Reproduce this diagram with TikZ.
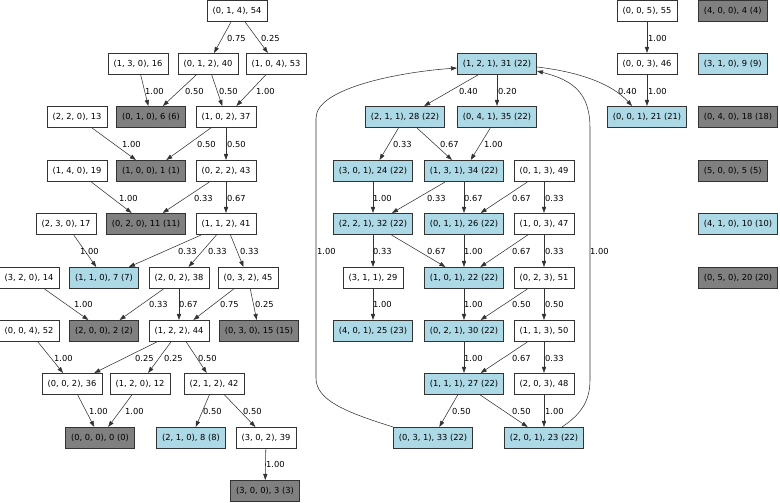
\documentclass[tikz,border=0pt]{standalone}
\usepackage{fontspec}
\setmainfont{DejaVu Sans}
\usetikzlibrary{arrows.meta,calc}
\definecolor{gvblue}{HTML}{ADD8E6}
\definecolor{gvgrey}{HTML}{808080}
\definecolor{gvline}{HTML}{333333}
\begin{document}
\begin{tikzpicture}[x=1pt,y=-1pt,
  font=\fontsize{8.3}{10}\selectfont,
  box/.style={draw=gvline,line width=0.6pt,rectangle,minimum height=21.5pt,inner xsep=5.5pt,inner ysep=0pt},
  wbox/.style={box,fill=white},
  bbox/.style={box,fill=gvblue},
  gbox/.style={box,fill=gvgrey},
  lab/.style={inner sep=0pt,anchor=west},
  edge/.style={draw=gvline,line width=0.55pt,-{Triangle[length=6pt,width=4.2pt]}}]
\useasboundingbox (0,0) rectangle (780,503);
% left cluster
\node[wbox] (n54) at (237,11) {(0, 1, 4), 54};
\node[wbox] (n16) at (138,64) {(1, 3, 0), 16};
\node[wbox] (n40) at (208,64) {(0, 1, 2), 40};
\node[wbox] (n53) at (276,64) {(1, 0, 4), 53};
\node[wbox] (n13) at (77,117) {(2, 2, 0), 13};
\node[gbox] (n6) at (151,117) {(0, 1, 0), 6 (6)};
\node[wbox] (n37) at (226,117) {(1, 0, 2), 37};
\node[wbox] (n19) at (77,171) {(1, 4, 0), 19};
\node[gbox] (n1) at (151,171) {(1, 0, 0), 1 (1)};
\node[wbox] (n43) at (226,171) {(0, 2, 2), 43};
\node[wbox] (n17) at (66,224) {(2, 3, 0), 17};
\node[gbox] (n11) at (146,224) {(0, 2, 0), 11 (11)};
\node[wbox] (n41) at (226,224) {(1, 1, 2), 41};
\node[wbox] (n14) at (29,278) {(3, 2, 0), 14};
\node[bbox] (n7) at (104,278) {(1, 1, 0), 7 (7)};
\node[wbox] (n38) at (179,278) {(2, 0, 2), 38};
\node[wbox] (n45) at (248,278) {(0, 3, 2), 45};
\node[wbox] (n52) at (29,331) {(0, 0, 4), 52};
\node[gbox] (n2) at (104,331) {(2, 0, 0), 2 (2)};
\node[wbox] (n44) at (179,331) {(1, 2, 2), 44};
\node[gbox] (n15) at (259,331) {(0, 3, 0), 15 (15)};
\node[wbox] (n36) at (72,384) {(0, 0, 2), 36};
\node[wbox] (n12) at (140,384) {(1, 2, 0), 12};
\node[wbox] (n42) at (214,384) {(2, 1, 2), 42};
\node[gbox] (n0) at (100,438) {(0, 0, 0), 0 (0)};
\node[bbox] (n8) at (191,438) {(2, 1, 0), 8 (8)};
\node[wbox] (n39) at (266,438) {(3, 0, 2), 39};
\node[gbox] (n3) at (265,491) {(3, 0, 0), 3 (3)};
% middle cluster
\node[bbox] (n31) at (497,64) {(1, 2, 1), 31 (22)};
\node[bbox] (n28) at (405,117) {(2, 1, 1), 28 (22)};
\node[bbox] (n35) at (497,117) {(0, 4, 1), 35 (22)};
\node[bbox] (n24) at (373,171) {(3, 0, 1), 24 (22)};
\node[bbox] (n34) at (464,171) {(1, 3, 1), 34 (22)};
\node[wbox] (n49) at (544,171) {(0, 1, 3), 49};
\node[bbox] (n32) at (373,224) {(2, 2, 1), 32 (22)};
\node[bbox] (n26) at (464,224) {(0, 1, 1), 26 (22)};
\node[wbox] (n47) at (544,224) {(1, 0, 3), 47};
\node[wbox] (n29) at (373,278) {(3, 1, 1), 29};
\node[bbox] (n22) at (464,278) {(1, 0, 1), 22 (22)};
\node[wbox] (n51) at (544,278) {(0, 2, 3), 51};
\node[bbox] (n25) at (373,331) {(4, 0, 1), 25 (23)};
\node[bbox] (n30) at (464,331) {(0, 2, 1), 30 (22)};
\node[wbox] (n50) at (544,331) {(1, 1, 3), 50};
\node[bbox] (n27) at (464,384) {(1, 1, 1), 27 (22)};
\node[wbox] (n48) at (544,384) {(2, 0, 3), 48};
\node[bbox] (n33) at (433,438) {(0, 3, 1), 33 (22)};
\node[bbox] (n23) at (544,438) {(2, 0, 1), 23 (22)};
% right
\node[wbox] (n55) at (647,11) {(0, 0, 5), 55};
\node[wbox] (n46) at (647,64) {(0, 0, 3), 46};
\node[bbox] (n21) at (647,117) {(0, 0, 1), 21 (21)};
\node[gbox,anchor=west] (n4) at (698,11) {(4, 0, 0), 4 (4)};
\node[bbox,anchor=west] (n9) at (698,64) {(3, 1, 0), 9 (9)};
\node[gbox,anchor=west] (n18) at (698,117) {(0, 4, 0), 18 (18)};
\node[gbox,anchor=west] (n5) at (698,171) {(5, 0, 0), 5 (5)};
\node[bbox,anchor=west] (n10) at (698,224) {(4, 1, 0), 10 (10)};
\node[gbox,anchor=west] (n20) at (698,278) {(0, 5, 0), 20 (20)};
% straight edges
\foreach \a/\b in {54/40,54/53,16/6,40/6,40/37,53/37,13/1,37/1,37/43,19/11,43/11,43/41,
  17/7,41/7,41/38,41/45,14/2,38/2,38/44,45/44,45/15,52/36,44/36,44/12,44/42,36/0,12/0,
  42/8,42/39,39/3,31/28,31/35,28/24,28/34,35/34,24/32,34/32,34/26,49/26,49/47,
  32/29,32/22,26/22,47/22,47/51,29/25,22/30,51/30,51/50,30/27,50/27,50/48,27/33,27/23,
  48/23,55/46,46/21}
  \draw[edge] (n\a) -- (n\b);
% curved edges
\draw[edge] (n33.north west) .. controls (345,412) and (316,400) .. (316,378)
  -- (316,118) .. controls (316,88) and (400,72) .. ($(n31.west)+(0,4)$);
\draw[edge] ($(n23.north)+(18,0)$) .. controls (580,415) and (590,402) .. (590,380)
  -- (590,128) .. controls (590,92) and (572,80) .. ($(n31.east)+(0,7)$);
\draw[edge] ($(n31.east)+(0,3)$) .. controls (580,72) and (612,84) .. ($(n21.north)+(-15,0)$);
% edge labels
\foreach \n/\x/\y/\t in {a/227/38/0.75,b/261/38/0.25,c/145/91/1.00,d/185/91/0.50,e/219/91/0.50,
  f/256/91/1.00,g/122/144/1.00,h/197/144/0.50,i/227/144/0.50,j/119/198/1.00,k/194/198/0.33,
  l/227/198/0.67,m/80/251/1.00,n/178/251/0.33,o/208/251/0.33,p/240/251/0.33,q/74/304/1.00,
  r/149/304/0.33,s/179/304/0.67,t/220/304/0.75,u/255/304/0.25,v/54/358/1.00,w/135/358/0.25,
  x/164/358/0.25,y/198/358/0.50,z/89/411/1.00,aa/125/411/1.00,ab/203/411/0.50,ac/243/411/0.50,
  ad/266/464/1.00,ae/459/91/0.40,af/498/91/0.20,ag/393/144/0.33,ah/440/144/0.67,ai/484/144/1.00,
  aj/373/198/1.00,ak/427/198/0.33,al/464/198/0.67,am/512/198/0.67,an/545/198/0.33,
  ao/317/251/1.00,ap/373/251/0.33,aq/427/251/0.67,ar/464/251/1.00,as/512/251/0.67,
  at/545/251/0.33,au/590/251/1.00,av/373/304/1.00,aw/464/304/1.00,ax/512/304/0.50,
  ay/545/304/0.50,az/464/358/1.00,ba/512/358/0.67,bb/545/358/0.33,bc/452/411/0.50,
  bd/512/411/0.50,be/545/411/1.00,bf/648/38/1.00,bg/648/91/1.00,bh/618/91/0.40}
  \node[lab] (l\n) at (\x,\y) {\t};
\end{tikzpicture}
\end{document}
